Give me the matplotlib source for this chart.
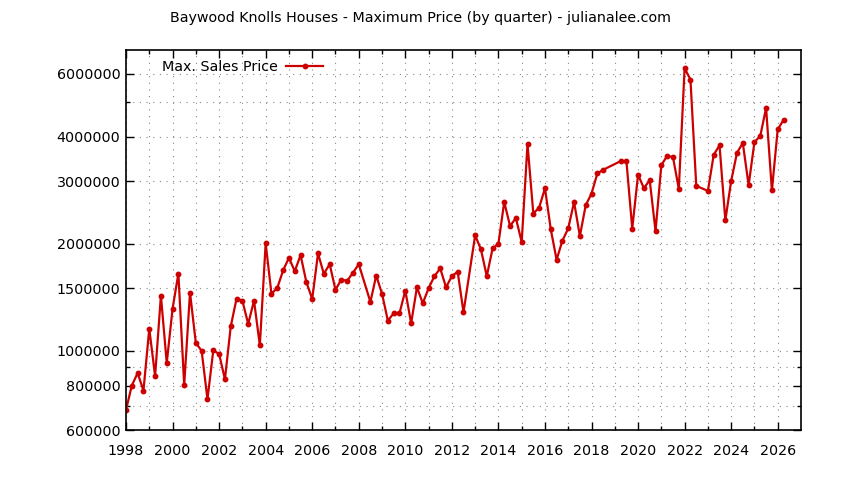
import matplotlib
matplotlib.use("Agg")
import matplotlib.pyplot as plt
from matplotlib.ticker import FixedLocator, NullFormatter

title = "Baywood Knolls Houses - Maximum Price (by quarter) - julianalee.com"
series_label = "Max. Sales Price"

quarters = [
    1998.0, 1998.25, 1998.5, 1998.75,
    1999.0, 1999.25, 1999.5, 1999.75,
    2000.0, 2000.25, 2000.5, 2000.75,
    2001.0, 2001.25, 2001.5, 2001.75,
    2002.0, 2002.25, 2002.5, 2002.75,
    2003.0, 2003.25, 2003.5, 2003.75,
    2004.0, 2004.25, 2004.5, 2004.75,
    2005.0, 2005.25, 2005.5, 2005.75,
    2006.0, 2006.25, 2006.5, 2006.75,
    2007.0, 2007.25, 2007.5, 2007.75,
    2008.0, 2008.5, 2008.75,
    2009.0, 2009.25, 2009.5, 2009.75,
    2010.0, 2010.25, 2010.5, 2010.75,
    2011.0, 2011.25, 2011.5, 2011.75,
    2012.0, 2012.25, 2012.5,
    2013.0, 2013.25, 2013.5, 2013.75,
    2014.0, 2014.25, 2014.5, 2014.75,
    2015.0, 2015.25, 2015.5, 2015.75,
    2016.0, 2016.25, 2016.5, 2016.75,
    2017.0, 2017.25, 2017.5, 2017.75,
    2018.0, 2018.25, 2018.5,
    2019.25, 2019.5, 2019.75,
    2020.0, 2020.25, 2020.5, 2020.75,
    2021.0, 2021.25, 2021.5, 2021.75,
    2022.0, 2022.25, 2022.5,
    2023.0, 2023.25, 2023.5, 2023.75,
    2024.0, 2024.25, 2024.5, 2024.75,
    2025.0, 2025.25, 2025.5, 2025.75,
    2026.0, 2026.25,
]

prices = [
    683000, 800000, 867000, 774000,
    1155000, 850000, 1431000, 925000,
    1313000, 1650000, 802000, 1459000,
    1053000, 1001000, 732000, 1004000,
    981000, 833000, 1172000, 1403000,
    1385000, 1191000, 1385000, 1037000,
    2005000, 1447000, 1504000, 1683000,
    1827000, 1675000, 1858000, 1560000,
    1400000, 1879000, 1647000, 1753000,
    1485000, 1587000, 1574000, 1658000,
    1753000, 1373000, 1629000,
    1447000, 1217000, 1276000, 1276000,
    1478000, 1196000, 1510000, 1361000,
    1500000, 1622000, 1705000, 1510000,
    1622000, 1669000, 1284000,
    2112000, 1928000, 1622000, 1941000,
    2001000, 2621000, 2243000, 2362000,
    2022000, 3811000, 2431000, 2527000,
    2864000, 2195000, 1804000, 2041000,
    2210000, 2621000, 2102000, 2565000,
    2767000, 3151000, 3226000,
    3412000, 3412000, 2206000,
    3127000, 2864000, 3017000, 2171000,
    3325000, 3532000, 3502000, 2852000,
    6226000, 5783000, 2908000,
    2815000, 3556000, 3779000, 2327000,
    3003000, 3602000, 3836000, 2921000,
    3861000, 4014000, 4813000, 2823000,
    4192000, 4452000,
]

y_major = [600000, 800000, 1000000, 1500000, 2000000, 3000000, 4000000, 6000000]
y_minor = [700000, 900000, 5000000]
x_major = list(range(1998, 2027, 2))
x_minor = list(range(1999, 2027, 2))

plt.rcParams['font.family'] = ['DejaVu Sans']
fig = plt.figure(figsize=(8.44, 4.80), dpi=100)
ax = fig.add_axes([126 / 844, 1 - 430 / 480, (801 - 126) / 844, (430 - 50) / 480])

ax.plot(quarters, prices, color='#cc0000', linewidth=1.6, marker='o',
        markersize=3.2, label=series_label)

ax.set_yscale('log')
ax.set_xlim(1998, 2027)
ax.set_ylim(600000, 7000000)

ax.yaxis.set_major_locator(FixedLocator(y_major))
ax.yaxis.set_minor_locator(FixedLocator(y_minor))
ax.set_yticklabels([str(v) for v in y_major])
ax.yaxis.set_minor_formatter(NullFormatter())
ax.xaxis.set_major_locator(FixedLocator(x_major))
ax.xaxis.set_minor_locator(FixedLocator(x_minor))
ax.set_xticklabels([str(v) for v in x_major])

ax.tick_params(axis='both', which='both', direction='in', top=True, right=True,
               labelsize=10.3, colors='black')
ax.tick_params(axis='both', which='major', length=6, width=1)
ax.tick_params(axis='both', which='minor', length=3, width=1)
ax.tick_params(axis='y', pad=4)
ax.tick_params(axis='x', pad=10)

ax.grid(True, which='both', linestyle=(0, (1, 5)), color='#888888', linewidth=0.8)
for s in ax.spines.values():
    s.set_linewidth(1.2)
    s.set_color('black')

leg = ax.legend(loc='upper left', frameon=False, fontsize=10.3, handlelength=2.6,
                handletextpad=0.6, bbox_to_anchor=(0.038, 1.0), borderaxespad=0.3,
                markerfirst=False)

fig.text(421 / 844, 1 - 18 / 480, title, ha='center', va='center', fontsize=10.3)

fig.savefig('out.png', dpi=100)
